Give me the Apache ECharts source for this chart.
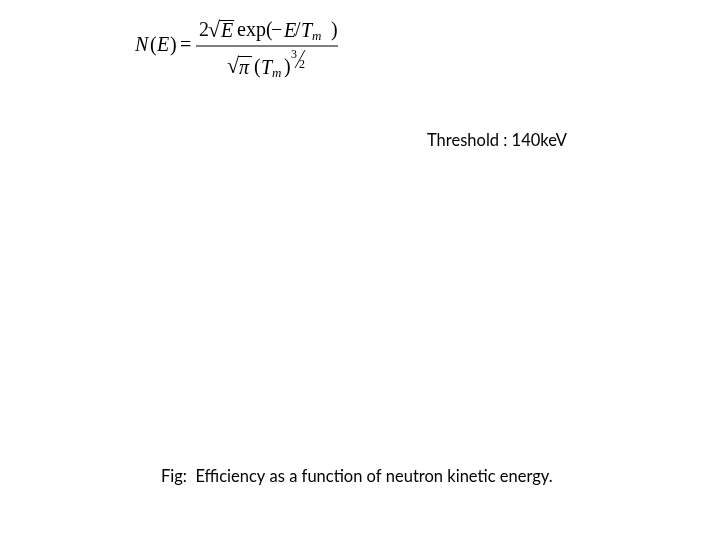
<!DOCTYPE html>
<html>
<head>
<meta charset="utf-8">
<script src="https://cdn.jsdelivr.net/npm/echarts@6/dist/echarts.min.js"></script>
<style>html,body{margin:0;padding:0;background:#fff;}#c{width:720px;height:540px;}</style>
</head>
<body>
<div id="c"></div>
<script>
// Text content of the slide (no plotted data is visible in the reference)
const thresholdLabel = ['Threshold : 140keV'];
const captionLabel = ['Fig:  Efficiency as a function of neutron kinetic energy.'];
const formulaLeft = ['N', '(', 'E', ')', '='];

const chart = echarts.init(document.getElementById('c'));
const serif = '"Liberation Serif", "DejaVu Serif", serif';
const sans = 'Lato, "Open Sans", sans-serif';

function t(x, y, text, opts) {
  opts = opts || {};
  return {
    type: 'text', x: x, y: y,
    style: {
      text: text,
      fill: '#000',
      font: (opts.italic ? 'italic ' : '') + (opts.size || 20) + 'px ' + (opts.family || serif),
      textVerticalAlign: 'middle',
      textAlign: opts.align || 'left'
    }
  };
}
function l(x1, y1, x2, y2, w) {
  return { type: 'line', shape: { x1: x1, y1: y1, x2: x2, y2: y2 }, style: { stroke: '#000', lineWidth: w || 1 } };
}

const g = [];
// left side N(E) =
g.push(t(135, 46, formulaLeft[0], { italic: true }));
g.push(t(150, 46, formulaLeft[1]));
g.push(t(157, 46, formulaLeft[2], { italic: true }));
g.push(t(170, 46, formulaLeft[3]));
g.push(t(180, 46, formulaLeft[4]));
// fraction bar
g.push(l(196, 46, 338, 46, 1));
// numerator
g.push(t(199, 31, '2'));
g.push(t(208, 31, '\u221A', { size: 22 }));
g.push(l(219, 20.5, 234, 20.5, 1));
g.push(t(221, 32, 'E', { italic: true }));
g.push(t(237, 31, 'exp('));
g.push(t(271, 31, '\u2212'));
g.push(t(284, 32, 'E', { italic: true }));
g.push(t(295, 31, '/'));
g.push(t(301, 32, 'T', { italic: true }));
g.push(t(312, 37, 'm', { italic: true, size: 13 }));
g.push(t(331, 31, ')'));
// denominator
g.push(t(227, 67, '\u221A', { size: 22 }));
g.push(l(238, 56.5, 252, 56.5, 1));
g.push(t(239, 69, '\u03C0', { italic: true }));
g.push(t(254, 68, '('));
g.push(t(261, 69, 'T', { italic: true }));
g.push(t(272, 74, 'm', { italic: true, size: 13 }));
g.push(t(284, 68, ')'));
g.push(t(291, 55, '3', { size: 12 }));
g.push(l(305, 50, 295, 68, 0.9));
g.push(t(299, 65, '2', { size: 12 }));
// threshold label
g.push(t(427, 141, thresholdLabel[0], { family: sans, size: 16.5 }));
// caption
g.push(t(161, 477, captionLabel[0], { family: sans, size: 16.5 }));

chart.setOption({
  backgroundColor: '#fff',
  animation: false,
  graphic: g
});
</script>
</body>
</html>
